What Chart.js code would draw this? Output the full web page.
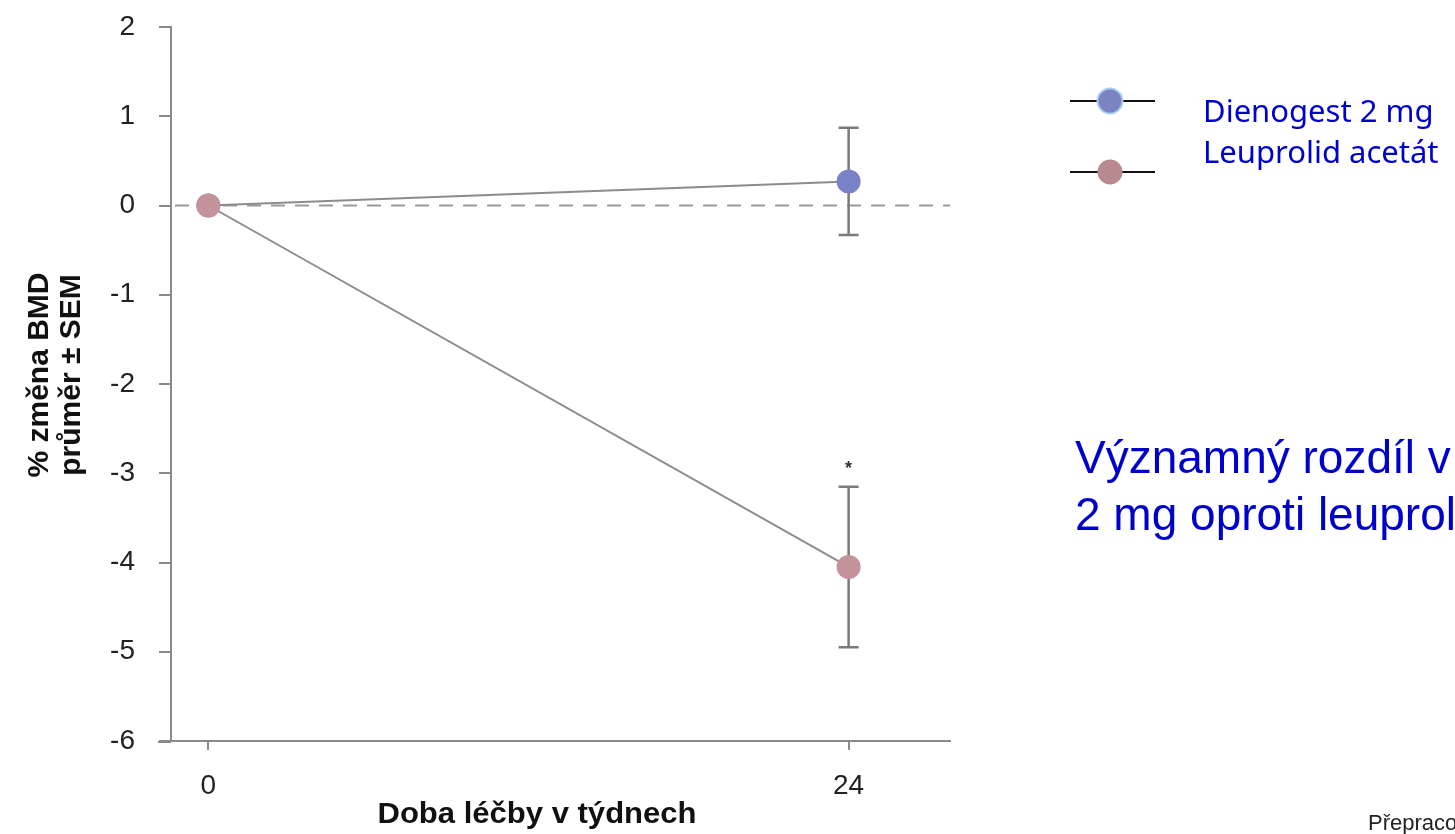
<!DOCTYPE html>
<html>
<head>
<meta charset="utf-8">
<script src="https://cdn.jsdelivr.net/npm/chart.js@4/dist/chart.umd.min.js"></script>
<style>
  html, body { margin: 0; padding: 0; background: #fff; }
  #chart { display: block; }
</style>
</head>
<body>
<canvas id="chart" width="1455" height="834"></canvas>
<script>
// weeks of treatment and % change of BMD (mean, SEM)
const weeks = [0, 24]
const dienogest = [0, 0.27]
const dienogestSem = [0, 0.6]
const leuprolid = [0, -4.05]
const leuprolidSem = [0, 0.9]
const leuprolidMarks = ['', '*']
const xTickValues = [0, 24]

const seriesNames = ['Dienogest 2 mg', 'Leuprolid acetát']
const seriesColors = ['#7982c6', '#c4929b']
const xTitle = 'Doba léčby v týdnech'
const yTitle = ['% změna BMD', 'průměr ± SEM']

function points(values) {
  return weeks.map((w, i) => ({ x: w, y: values[i] }))
}

// dashed zero line + SEM whiskers, drawn under the points
const errorBars = {
  id: 'errorBars',
  beforeDatasetsDraw(chart) {
    const ctx = chart.ctx
    const xs = chart.scales.x
    const ys = chart.scales.y
    const area = chart.chartArea

    ctx.save()
    ctx.strokeStyle = '#9a9a9a'
    ctx.lineWidth = 2
    ctx.setLineDash([14, 10])
    ctx.beginPath()
    ctx.moveTo(area.left + 4, ys.getPixelForValue(0))
    ctx.lineTo(area.right, ys.getPixelForValue(0))
    ctx.stroke()
    ctx.setLineDash([])

    // x axis line runs a little past the y axis
    ctx.strokeStyle = '#8a8a8a'
    ctx.beginPath()
    ctx.moveTo(area.left - 13, area.bottom + 1)
    ctx.lineTo(area.left, area.bottom + 1)
    ctx.stroke()

    chart.data.datasets.forEach((ds) => {
      ds.sem.forEach((s, i) => {
        if (!s) return
        const x = xs.getPixelForValue(ds.data[i].x)
        const top = ys.getPixelForValue(ds.data[i].y + s)
        const bottom = ys.getPixelForValue(ds.data[i].y - s)
        ctx.strokeStyle = '#7a7a7a'
        ctx.lineWidth = 2.5
        ctx.beginPath()
        ctx.moveTo(x, top)
        ctx.lineTo(x, bottom)
        ctx.moveTo(x - 10, top)
        ctx.lineTo(x + 10, top)
        ctx.moveTo(x - 10, bottom)
        ctx.lineTo(x + 10, bottom)
        ctx.stroke()
        if (ds.marks && ds.marks[i]) {
          ctx.fillStyle = '#333'
          ctx.font = 'bold 18px "Liberation Sans", Arial, sans-serif'
          ctx.textAlign = 'center'
          ctx.textBaseline = 'middle'
          ctx.fillText(ds.marks[i], x, top - 18)
        }
      })
    })
    ctx.restore()
  },
}

// axis titles, legend and side notes
const sideText = {
  id: 'sideText',
  afterDraw(chart) {
    const ctx = chart.ctx
    ctx.save()

    ctx.fillStyle = '#111'
    ctx.textAlign = 'center'
    ctx.textBaseline = 'middle'
    ctx.save()
    ctx.translate(537, 815)
    ctx.scale(1.07, 1)
    ctx.font = 'bold 29px "Liberation Sans", Arial, sans-serif'
    ctx.fillText(xTitle, 0, 0)
    ctx.restore()

    ctx.save()
    ctx.translate(40, 375)
    ctx.rotate(-Math.PI / 2)
    ctx.font = 'bold 30px "Liberation Sans", Arial, sans-serif'
    ctx.fillText(yTitle[0], 0, 0)
    ctx.fillText(yTitle[1], 0, 32)
    ctx.restore()

    const rows = [101, 172]
    rows.forEach((y, i) => {
      ctx.strokeStyle = '#111'
      ctx.lineWidth = 2
      ctx.beginPath()
      ctx.moveTo(1070, y)
      ctx.lineTo(1155, y)
      ctx.stroke()
      ctx.beginPath()
      ctx.arc(1110, y, 12.5, 0, Math.PI * 2)
      ctx.fillStyle = i === 0 ? '#7b84c0' : '#b8898f'
      ctx.fill()
      if (i === 0) {
        ctx.strokeStyle = '#a9d0f2'
        ctx.lineWidth = 2
        ctx.stroke()
      }
    })

    ctx.fillStyle = '#0000cc'
    ctx.textAlign = 'left'
    ctx.textBaseline = 'alphabetic'
    ctx.font = '31px "Noto Sans", sans-serif'
    ctx.fillText(seriesNames[0], 1203, 122)
    ctx.fillText(seriesNames[1], 1203, 163)

    ctx.font = '46px "Liberation Sans", Arial, sans-serif'
    ctx.fillText('Významný rozdíl v BMD', 1075, 473)
    ctx.fillText('2 mg oproti leuprolid acetátu', 1075, 530)

    ctx.fillStyle = '#222'
    ctx.font = '22px "Liberation Sans", Arial, sans-serif'
    ctx.fillText('Přepracováno', 1368, 830)
    ctx.restore()
  },
}

const axisColor = '#8a8a8a'
const tickFont = { family: '"Liberation Sans", Arial, sans-serif', size: 28, lineHeight: 1 }

new Chart(document.getElementById('chart'), {
  type: 'line',
  data: {
    datasets: [
      {
        label: seriesNames[1],
        data: points(leuprolid),
        sem: leuprolidSem,
        marks: leuprolidMarks,
        borderColor: '#8c8c8c',
        borderWidth: 2,
        pointBackgroundColor: seriesColors[1],
        pointBorderWidth: 0,
        pointRadius: 12,
        order: 0,
      },
      {
        label: seriesNames[0],
        data: points(dienogest),
        sem: dienogestSem,
        borderColor: '#8c8c8c',
        borderWidth: 2,
        pointBackgroundColor: seriesColors[0],
        pointBorderWidth: 0,
        pointRadius: 12,
        order: 1,
      },
    ],
  },
  options: {
    responsive: false,
    animation: false,
    layout: { padding: { top: 0, right: 505, left: 0, bottom: 0 } },
    plugins: {
      legend: { display: false },
      tooltip: { enabled: false },
    },
    scales: {
      x: {
        type: 'linear',
        min: -1.4,
        max: 27.8,
        afterBuildTicks(scale) {
          scale.ticks = xTickValues.map((v) => ({ value: v }))
        },
        afterFit(scale) {
          scale.height = 93
        },
        ticks: { font: tickFont, color: '#222', padding: 22 },
        grid: { drawOnChartArea: false, drawTicks: true, tickLength: 9, color: axisColor, lineWidth: 2 },
        border: { color: axisColor, width: 2 },
      },
      y: {
        min: -6,
        max: 2,
        afterFit(scale) {
          scale.width = 171
          scale.paddingTop = 27
          scale.paddingBottom = 0
        },
        ticks: { stepSize: 1, font: tickFont, color: '#222', padding: 24 },
        grid: { drawOnChartArea: false, drawTicks: true, tickLength: 12, color: axisColor, lineWidth: 2 },
        border: { color: axisColor, width: 2 },
      },
    },
  },
  plugins: [errorBars, sideText],
})
</script>
</body>
</html>
